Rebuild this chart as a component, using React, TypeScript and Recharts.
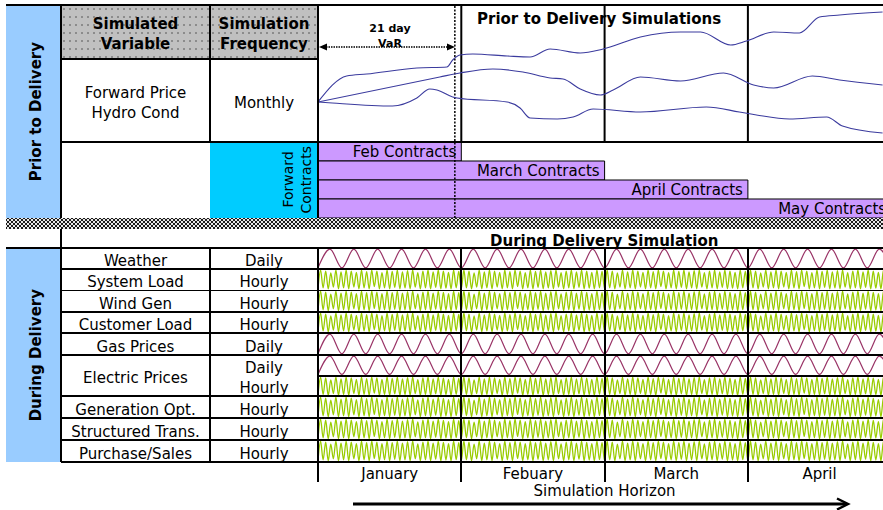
import React from 'react';
import { LineChart, Line, BarChart, Bar, XAxis, YAxis, ReferenceLine, LabelList } from 'recharts';

// simulation horizon
const months = ['January', 'Febuary', 'March', 'April'];
const varHorizon = 0.955; // 21 trading days, in months

// prior to delivery: forward price paths (t = months, v = price units)
const upperPath = [
  { t: 0, v: 39 }, { t: 0.2, v: 65 }, { t: 0.34, v: 67 }, { t: 0.69, v: 73 }, { t: 0.9, v: 74 },
  { t: 0.94, v: 81 }, { t: 0.99, v: 86 }, { t: 1.08, v: 87 }, { t: 1.32, v: 85 }, { t: 1.48, v: 84 },
  { t: 1.62, v: 92 }, { t: 1.83, v: 88 }, { t: 1.99, v: 92 }, { t: 2.25, v: 104 }, { t: 2.53, v: 109 },
  { t: 2.67, v: 109 }, { t: 2.88, v: 96 }, { t: 2.99, v: 100 }, { t: 3.18, v: 109 }, { t: 3.36, v: 108 },
  { t: 3.5, v: 124 }, { t: 3.64, v: 126 }, { t: 3.94, v: 129 },
];
const middlePath = [
  { t: 0, v: 39 }, { t: 0.85, v: 64 }, { t: 0.99, v: 68 }, { t: 1.22, v: 72 }, { t: 1.43, v: 69 },
  { t: 1.62, v: 63 }, { t: 1.71, v: 62 }, { t: 1.83, v: 52 }, { t: 1.97, v: 46 }, { t: 2.06, v: 51 },
  { t: 2.25, v: 64 }, { t: 2.53, v: 60 }, { t: 2.83, v: 68 }, { t: 3.04, v: 56 }, { t: 3.18, v: 53 },
  { t: 3.45, v: 65 }, { t: 3.64, v: 61 }, { t: 3.94, v: 56 },
];
const lowerPath = [
  { t: 0, v: 39 }, { t: 0.1, v: 38 }, { t: 0.52, v: 35 }, { t: 0.69, v: 43 }, { t: 0.78, v: 52 },
  { t: 0.83, v: 51 }, { t: 0.94, v: 44 }, { t: 0.97, v: 43 }, { t: 1.32, v: 39 }, { t: 1.41, v: 33 },
  { t: 1.48, v: 23 }, { t: 1.67, v: 22 }, { t: 1.78, v: 24 }, { t: 1.92, v: 32 }, { t: 2.25, v: 29 },
  { t: 2.71, v: 34 }, { t: 2.94, v: 29 }, { t: 3.06, v: 26 }, { t: 3.29, v: 22 }, { t: 3.55, v: 24 },
  { t: 3.66, v: 15 }, { t: 3.94, v: 8 },
];

// forward contracts and the month (from start) at which each expires
const contractNames = ['Feb Contracts', 'March Contracts', 'April Contracts', 'May Contracts'];
const contractExpiry = [1, 2, 3, 4];

// during delivery
const deliveryVariables = [
  'Weather', 'System Load', 'Wind Gen', 'Customer Load', 'Gas Prices',
  'Electric Prices', 'Generation Opt.', 'Structured Trans.', 'Purchase/Sales',
];
const deliveryFrequencies = [
  ['Daily'], ['Hourly'], ['Hourly'], ['Hourly'], ['Daily'],
  ['Daily', 'Hourly'], ['Hourly'], ['Hourly'], ['Hourly'],
];

// one month of schematic paths (normalised level)
const dailyMonth = [0, 1, 0, 1, 0, 1, 0, 1, 0, 1, 0, 1];
const hourlyMonth = [
  0, 1, 0.05, 0.95, 0, 0.85, 0.1, 1, 0, 0.9,
  0.05, 1, 0, 0.95, 0.1, 0.88, 0, 1, 0.05, 0.92,
  0, 1, 0.12, 0.95, 0, 0.87, 0.05, 1, 0, 0.93,
  0.08, 1, 0, 0.9, 0.05, 0.97, 0, 1, 0.1, 0.86,
  0, 0.95, 0.05, 1, 0, 0.9, 0.08, 1, 0, 0.94,
  0.04, 0.88, 0, 1, 0.06, 0.93,
];

const repeatMonths = (month: number[]) =>
  [...months.flatMap(() => month), month[0]].map((v) => ({ v }));
const dailySeries = repeatMonths(dailyMonth);
const hourlySeries = repeatMonths(hourlyMonth);

const FONT = '"DejaVu Sans", Verdana, sans-serif';
const X0 = 318;
const M = 143.3;
const SPAN = 4 * M;
const rowEdges = [248, 269, 290, 312, 333, 355, 396, 418, 440, 462];
const rowLineWidth = [2, 2, 1, 2, 1.5, 1.5, 1.5, 1.5, 1.5, 2];
const noMargin = { top: 0, right: 0, bottom: 0, left: 0 };

const Box = ({ x, y, w, h, style, children }: any) => (
  <div style={{ position: 'absolute', left: x, top: y, width: w, height: h, boxSizing: 'border-box', ...style }}>
    {children}
  </div>
);
const HLine = ({ x1, x2, y, t = 2 }: any) => <Box x={x1} y={y - t / 2} w={x2 - x1} h={t} style={{ background: '#000' }} />;
const VLine = ({ x, y1, y2, t = 2 }: any) => <Box x={x - t / 2} y={y1} w={t} h={y2 - y1} style={{ background: '#000' }} />;

const center: React.CSSProperties = {
  display: 'flex', alignItems: 'center', justifyContent: 'center', textAlign: 'center', lineHeight: '20px',
};
const vertical: React.CSSProperties = { writingMode: 'vertical-rl', transform: 'rotate(180deg)' };
const grayDots: React.CSSProperties = {
  background: '#C0C0C0',
  backgroundImage: 'radial-gradient(circle, #8a8a8a 0.7px, transparent 1px)',
  backgroundSize: '6px 8px',
};
const hatch: React.CSSProperties = {
  backgroundColor: '#1a1a1a',
  backgroundImage:
    'radial-gradient(circle, #e8e8e8 0.8px, transparent 1.1px), radial-gradient(circle, #e8e8e8 0.8px, transparent 1.1px)',
  backgroundSize: '4px 4px',
  backgroundPosition: '0 0, 2px 2px',
};

function WaveRow({ top, height, freq }: { top: number; height: number; freq: string }) {
  const daily = freq === 'Daily';
  return (
    <Box x={X0} y={top} w={SPAN} h={height}>
      <LineChart width={SPAN} height={height} data={daily ? dailySeries : hourlySeries} margin={noMargin}>
        <XAxis hide padding={{ left: 0, right: 0 }} />
        <YAxis hide domain={[-0.06, 1.06]} />
        <Line
          type="monotone"
          dataKey="v"
          stroke={daily ? '#993366' : '#99CC00'}
          strokeWidth={daily ? 1.2 : 1.3}
          dot={false}
          isAnimationActive={false}
        />
      </LineChart>
    </Box>
  );
}

export default function App() {
  const contracts = contractNames.map((name, i) => ({ name, end: contractExpiry[i] }));

  const bands: { top: number; height: number; freq: string }[] = [];
  deliveryFrequencies.forEach((freqs, i) => {
    const h = (rowEdges[i + 1] - rowEdges[i]) / freqs.length;
    freqs.forEach((freq, j) => bands.push({ top: rowEdges[i] + j * h, height: h, freq }));
  });

  return (
    <div
      style={{
        position: 'absolute', left: 0, top: 0, width: 883, height: 510, overflow: 'hidden',
        background: '#fff', fontFamily: FONT, fontSize: 15, color: '#000',
      }}
    >
      {/* ---------- prior to delivery ---------- */}
      <Box x={6} y={5} w={55} h={213} style={{ ...center, paddingLeft: 4, background: '#99CCFF', fontWeight: 'bold' }}>
        <span style={vertical}>Prior to Delivery</span>
      </Box>
      <Box x={61} y={5} w={149} h={54} style={{ ...center, paddingTop: 3, ...grayDots, fontWeight: 'bold' }}>
        Simulated<br />Variable
      </Box>
      <Box x={210} y={5} w={108} h={54} style={{ ...center, paddingTop: 3, ...grayDots, fontWeight: 'bold' }}>
        Simulation<br />Frequency
      </Box>
      <Box x={61} y={59} w={149} h={82} style={{ ...center, paddingTop: 5 }}>
        Forward Price<br />Hydro Cond
      </Box>
      <Box x={210} y={59} w={108} h={82} style={{ ...center, paddingTop: 5 }}>
        Monthly
      </Box>
      <Box
        x={210} y={142} w={108} h={76}
        style={{ ...center, justifyContent: 'flex-end', paddingRight: 3, background: '#00CCFF', fontSize: 14, lineHeight: '18px' }}
      >
        <span style={vertical}>Forward<br />Contracts</span>
      </Box>

      <Box x={X0} y={5} w={SPAN} h={136}>
        <LineChart width={SPAN} height={136} margin={noMargin}>
          <XAxis type="number" dataKey="t" domain={[0, 4]} allowDataOverflow hide />
          <YAxis type="number" domain={[0, 136]} allowDataOverflow hide />
          {[1, 2, 3].map((m) => (
            <ReferenceLine key={m} x={m} stroke="#000" strokeWidth={2} />
          ))}
          <ReferenceLine x={varHorizon} stroke="#000" strokeWidth={1.5} strokeDasharray="2 1.5" />
          {[upperPath, middlePath, lowerPath].map((p, i) => (
            <Line
              key={i}
              data={p}
              dataKey="v"
              type="monotone"
              stroke="#3B3B9E"
              strokeWidth={1.1}
              dot={false}
              isAnimationActive={false}
            />
          ))}
        </LineChart>
      </Box>
      <Box x={477} y={9} w={300} h={20} style={{ fontWeight: 'bold', lineHeight: '20px' }}>
        Prior to Delivery Simulations
      </Box>
      <Box x={340} y={20} w={100} h={32} style={{ ...center, fontWeight: 'bold', fontSize: 11, lineHeight: '15px' }}>
        21 day<br />VaR
      </Box>

      <Box x={X0} y={142} w={SPAN} h={76}>
        <BarChart layout="vertical" width={SPAN} height={76} data={contracts} margin={noMargin} barCategoryGap={0} barGap={0}>
          <XAxis type="number" domain={[0, 4]} hide />
          <YAxis type="category" dataKey="name" hide />
          <Bar dataKey="end" fill="#CC99FF" stroke="#000" strokeWidth={1} isAnimationActive={false}>
            <LabelList dataKey="name" position="insideRight" fill="#000" fontSize={15} fontFamily={FONT} />
          </Bar>
          <ReferenceLine x={varHorizon} stroke="#000" strokeWidth={1.5} strokeDasharray="2 1.5" />
        </BarChart>
      </Box>

      {/* borders, top part */}
      <HLine x1={6} x2={883} y={5} />
      <HLine x1={61} x2={318} y={59} />
      <HLine x1={61} x2={883} y={141.5} />
      <VLine x={61} y1={5} y2={218} />
      <VLine x={210} y1={5} y2={141} />
      <VLine x={X0} y1={5} y2={218} />

      <svg width={883} height={510} style={{ position: 'absolute', left: 0, top: 0 }}>
        <line x1={326} y1={47} x2={448} y2={47} stroke="#000" strokeWidth={1.3} strokeDasharray="1.5 1" />
        <polygon points="319,47 327,43.5 327,50.5" fill="#000" />
        <polygon points="455,47 447,43.5 447,50.5" fill="#000" />
        <line x1={353} y1={504} x2={846} y2={504} stroke="#000" strokeWidth={3} />
        <polyline points="837,498.5 848,504 837,509.5" fill="none" stroke="#000" strokeWidth={2.5} />
      </svg>

      {/* separator */}
      <Box x={6} y={218} w={877} h={11} style={hatch} />

      {/* ---------- during delivery ---------- */}
      <Box x={490} y={231} w={300} h={20} style={{ fontWeight: 'bold', lineHeight: '20px' }}>
        During Delivery Simulation
      </Box>
      <Box x={6} y={248} w={55} h={214} style={{ ...center, paddingLeft: 4, background: '#99CCFF', fontWeight: 'bold' }}>
        <span style={vertical}>During Delivery</span>
      </Box>

      {bands.map((b, i) => (
        <WaveRow key={i} {...b} />
      ))}

      {deliveryVariables.map((name, i) => (
        <Box key={name} x={61} y={rowEdges[i]} w={149} h={rowEdges[i + 1] - rowEdges[i]} style={{ ...center, paddingTop: 5 }}>
          {name}
        </Box>
      ))}
      {bands.map((b, i) => (
        <Box key={i} x={210} y={b.top} w={108} h={b.height} style={{ ...center, paddingTop: 5 }}>
          {b.freq}
        </Box>
      ))}

      {rowEdges.map((y, i) => (
        <HLine key={y} x1={i === 0 ? 6 : 61} x2={883} y={y} t={rowLineWidth[i]} />
      ))}
      <HLine x1={X0} x2={883} y={376} t={1.5} />
      <VLine x={61} y1={229} y2={462} />
      <VLine x={210} y1={248} y2={462} />
      <VLine x={X0} y1={248} y2={482} />
      {[1, 2, 3].map((m) => (
        <VLine key={m} x={X0 + m * M} y1={248} y2={482} />
      ))}

      {months.map((m, i) => (
        <Box key={m} x={X0 + i * M} y={463} w={M} h={19} style={{ ...center, paddingTop: 2 }}>
          {m}
        </Box>
      ))}
      <Box x={X0 + M} y={481} w={2 * M} h={20} style={center}>
        Simulation Horizon
      </Box>
    </div>
  );
}
